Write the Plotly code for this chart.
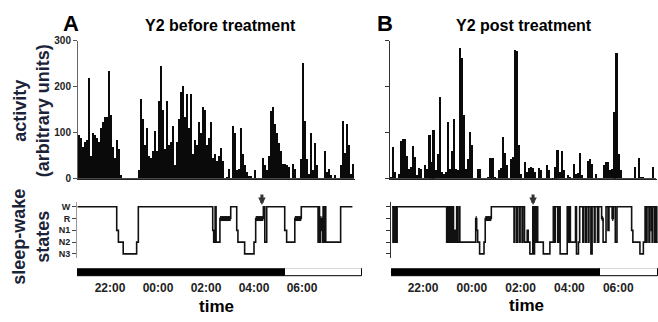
import plotly.graph_objects as go

# ---------------- data ----------------
# activity, 5-min epochs (arbitrary units)
actA_start = 20 + 40/60   # 20:40
actA = [95, 90, 70, 80, 85, 220, 50, 100, 95, 90, 80, 110, 125, 135, 135, 235, 140, 70, 45, 85, 65, 10,
        3, 3, 3, 3, 3, 3, 3, 3,
        20, 175, 130, 75, 110, 50, 45, 60, 105, 60, 170, 245, 150, 65, 170, 75, 80,
        115, 30, 80, 130, 190, 203, 135, 185, 110, 185, 55, 85, 75, 125, 100, 157, 150, 75, 90, 125, 45,
        55, 40, 50, 68, 40, 2, 5, 22, 3, 115, 100, 20, 22, 110, 55, 30, 15, 7, 7, 2, 20, 2, 1, 1, 45,
        30, 20, 50, 147, 157, 120, 100, 78, 60, 33, 33, 30, 27, 2, 33, 23, 1, 1, 43, 252, 126, 43, 12,
        100, 20, 78, 30, 1, 1, 1, 60, 16, 23, 9, 1, 9, 1, 1, 30, 126, 57, 120, 75, 12, 33]

actB_start = 20 + 39/60   # 20:39
actB = [5, 69, 16, 1, 12, 83, 88, 88, 50, 23, 26, 71, 47, 9, 24, 23, 1, 30, 23, 95, 38, 107, 19, 54, 178,
        16, 12, 16, 124, 23, 61, 130, 23, 19, 285, 264, 140, 23, 43, 102, 74, 1, 1, 23,
        23, 1, 1, 1, 5, 45, 45, 5, 1, 19, 25, 92, 57, 30, 2, 43, 47, 281, 278, 74, 12, 2, 38, 16, 24,
        26, 24, 16, 1, 24, 19, 1, 1, 30, 19, 1, 1, 26, 63, 16, 61, 19, 1,
        10, 5, 1, 33, 12, 14, 57, 10, 1, 1, 40, 43, 33, 1, 12, 1, 1, 1, 30, 38, 37, 19, 23, 146, 274,
        54, 19, 3, 3, 3, 1, 1, 1, 26, 1, 45, 5, 5, 1, 1, 1, 1, 26, 1]

stages = ["W", "R", "N1", "N2", "N3"]

# hypnogram A: change times (h after midnight of day 1) and stage entered
hypA_t = [20.65, 22.28, 22.35, 22.55, 23.11, 23.18, 26.28, 26.32, 26.38, 26.42, 26.58, 27.03,
          27.28, 27.33, 27.61, 28.00, 28.07, 28.39, 28.45, 28.53, 29.28, 29.36, 29.70, 29.97,
          30.67, 30.70, 30.73, 30.76, 30.80, 30.82, 30.85, 30.88, 30.92, 30.96, 30.99, 31.61]
hypA_s = ["W", "N1", "N2", "N3", "N2", "W", "N1", "N2", "W", "N2", "R", "W",
          "N1", "N2", "N3", "N2", "R", "W", "N2", "W", "N1", "N2", "R", "W",
          "N2", "W", "N2", "R", "N1", "R", "N2", "W", "N2", "W", "N2", "W"]
hypA_end = 32.1

hypB_t = [20.73, 20.77, 20.80, 20.83, 20.87, 20.90, 20.94,
          22.97, 23.01, 23.07, 23.10, 23.16, 23.19, 23.25, 23.29, 23.32, 23.38, 23.41, 23.48, 23.51,
          24.16, 24.20, 24.24, 24.32, 24.50, 24.55, 24.80,
          25.73, 25.76, 25.84, 25.87, 25.95, 25.98, 26.06, 26.09, 26.16, 26.27, 26.31, 26.38,
          26.50, 26.53, 26.57, 26.61, 26.66, 26.70, 26.93, 27.20,
          27.34, 27.38, 27.42, 27.52, 27.56, 27.62, 27.91, 27.95, 27.99, 28.04, 28.25, 28.29,
          28.37, 28.42, 28.55, 28.58, 28.66, 28.69, 28.77, 28.80, 28.88, 28.93, 29.02, 29.05,
          29.15, 29.20, 29.32, 29.38, 29.50, 29.58, 29.62, 29.75, 29.80, 29.88, 29.95,
          30.55, 30.60, 30.89, 31.03, 31.10, 31.15, 31.18, 31.26, 31.29, 31.36, 31.39, 31.42,
          31.50, 31.53, 31.58]
hypB_s = ["W", "N2", "W", "N2", "W", "N2", "W",
          "N2", "W", "N2", "W", "N2", "W", "N2", "N1", "N2", "W", "N2", "W", "N2",
          "R", "N1", "N2", "N3", "N2", "R", "W",
          "N2", "W", "N2", "W", "N2", "W", "N2", "W", "N2", "N1", "N2", "N3",
          "W", "N3", "W", "N2", "W", "N2", "N3", "N2",
          "W", "N2", "W", "N2", "W", "N3", "W", "N2", "W", "N2", "W", "N3",
          "N2", "W", "N2", "W", "N2", "W", "N2", "W", "N3", "W", "N2", "W",
          "N2", "W", "R", "N2", "W", "N1", "W", "R", "W", "N2", "W",
          "N1", "N2", "N3", "N2", "W", "N2", "W", "N2", "W", "N1", "N2", "W",
          "N2", "W", "N2"]
hypB_end = 31.62

# light/dark periods (h)
recA = [20.62, 32.5]
lightsOnA = 29.29
recB = [20.69, 31.63]
lightsOnB = 29.25

arrowA = 28.33
arrowB = 26.51

tick_vals = [22, 24, 26, 28, 30]
tick_text = ["22:00", "00:00", "02:00", "04:00", "06:00"]

# ---------------- figure ----------------
W, H = 658, 322
FONT = "Liberation Sans, Arial, sans-serif"


def fx(px):
    return px / W


def fy(py):
    return 1 - py / H


def step(ts, ss, end):
    x = list(ts) + [end]
    y = [stages.index(s) for s in ss]
    y = y + [y[-1]]
    return x, y


def rem(ts, ss, end):
    bounds = list(ts) + [end]
    x, y = [], []
    for i, s in enumerate(ss):
        if s == "R":
            x += [bounds[i], bounds[i + 1], None]
            y += [1, 1, None]
    return x, y


fig = go.Figure()

fig.add_trace(go.Bar(x=[actA_start + (i + 0.5) / 12 for i in range(len(actA))], y=actA,
                     width=1 / 12 * 0.8, marker=dict(color="#0a0a0a", line=dict(width=0)),
                     xaxis="x", yaxis="y", showlegend=False))
fig.add_trace(go.Bar(x=[actB_start + (i + 0.5) / 12 for i in range(len(actB))], y=actB,
                     width=1 / 12 * 0.8, marker=dict(color="#0a0a0a", line=dict(width=0)),
                     xaxis="x2", yaxis="y2", showlegend=False))

for ts, ss, end, xa, ya in [(hypA_t, hypA_s, hypA_end, "x3", "y3"), (hypB_t, hypB_s, hypB_end, "x4", "y4")]:
    x, y = step(ts, ss, end)
    fig.add_trace(go.Scatter(x=x, y=y, mode="lines", line=dict(color="#111", width=1.6, shape="hv"),
                             xaxis=xa, yaxis=ya, showlegend=False))
    rx, ry = rem(ts, ss, end)
    fig.add_trace(go.Scatter(x=rx, y=ry, mode="lines", line=dict(color="#111", width=5),
                             xaxis=xa, yaxis=ya, showlegend=False))

for rec, on, xa, ya in [(recA, lightsOnA, "x3", "y5"), (recB, lightsOnB, "x4", "y6")]:
    fig.add_trace(go.Bar(y=[0, 0], x=[on - rec[0], rec[1] - on], base=[rec[0], on], orientation="h",
                         width=1, marker=dict(color=["#000", "#fff"], line=dict(color="#000", width=1)),
                         xaxis=xa, yaxis=ya, showlegend=False))

act_dom = [fy(180), fy(37)]
hyp_dom = [fy(262), fy(204)]
bar_dom = [fy(281.5), fy(272.5)]

tickfont_small = dict(family=FONT, size=10, color="#222", weight="bold")
common_x = dict(showgrid=False, zeroline=False, ticks="", fixedrange=True)

fig.update_layout(
    width=W, height=H, margin=dict(l=0, r=0, t=0, b=0), autosize=False,
    paper_bgcolor="white", plot_bgcolor="white", bargap=0,
    font=dict(family=FONT),
    xaxis=dict(domain=[fx(78), fx(355)], range=[20.667, 32.208], anchor="y", showline=True,
               linecolor="#222", linewidth=1, showticklabels=False, **common_x),
    yaxis=dict(domain=act_dom, range=[0, 300], anchor="x", tickvals=[0, 100, 200, 300],
               ticks="outside", ticklen=4, tickcolor="#555", showline=True, linecolor="#666",
               linewidth=1, showgrid=False, zeroline=False, tickfont=tickfont_small),
    xaxis2=dict(domain=[fx(390), fx(657)], range=[20.648, 31.59], anchor="y2", showline=True,
                linecolor="#222", linewidth=1, showticklabels=False, **common_x),
    yaxis2=dict(domain=act_dom, range=[0, 300], anchor="x2", tickvals=[0, 100, 200, 300],
                ticks="outside", ticklen=4, tickcolor="#333", showline=True, linecolor="#333",
                linewidth=1, showgrid=False, zeroline=False, showticklabels=False),
    xaxis3=dict(domain=[fx(77), fx(362)], range=[20.625, 32.5], anchor="y5", showline=False,
                tickvals=tick_vals, ticktext=tick_text, ticklabelstandoff=2,
                tickfont=dict(family=FONT, size=12, color="#222", weight="bold"), **common_x),
    yaxis3=dict(domain=hyp_dom, range=[4.35, -0.4], anchor="x3", tickvals=[0, 1, 2, 3, 4],
                ticktext=stages, ticks="outside", ticklen=4, tickcolor="#444", showline=True,
                linecolor="#999", linewidth=1, showgrid=False, zeroline=False,
                tickfont=dict(family=FONT, size=9, color="#222", weight="bold")),
    yaxis5=dict(domain=bar_dom, range=[-0.55, 0.55], anchor="x3", visible=False),
    xaxis4=dict(domain=[fx(391), 1.0], range=[20.689, 31.63], anchor="y6", showline=False,
                tickvals=tick_vals, ticktext=tick_text, ticklabelstandoff=2,
                tickfont=dict(family=FONT, size=12, color="#222", weight="bold"), **common_x),
    yaxis4=dict(domain=hyp_dom, range=[4.35, -0.4], anchor="x4", tickvals=[0, 1, 2, 3, 4],
                ticks="outside", ticklen=4, tickcolor="#333", showline=True, linecolor="#333",
                linewidth=1, showgrid=False, zeroline=False, showticklabels=False),
    yaxis6=dict(domain=bar_dom, range=[-0.55, 0.55], anchor="x4", visible=False),
)

ann = []
def txt(text, px, py, size, color="#000", angle=0):
    ann.append(dict(text=text, x=fx(px), y=fy(py), xref="paper", yref="paper", showarrow=False,
                    xanchor="center", yanchor="middle", textangle=angle,
                    font=dict(family=FONT, size=size, color=color, weight="bold")))

txt("A", 71, 19, 22)
txt("Y2 before treatment", 221, 21, 16)
txt("B", 385, 19, 22)
txt("Y2 post treatment", 524, 21, 16)
txt("activity<br>(arbitrary units)", 31, 110, 18, "#1b2338", -90)
txt("sleep-wake<br>states", 31, 240, 18, "#1b2338", -90)
txt("time", 217, 312, 17)
txt("time", 526, 311, 17)

for xv, xa in [(arrowA, "x3"), (arrowB, "x4")]:
    ann.append(dict(text="", x=xv, y=fy(207), xref=xa, yref="paper", showarrow=True,
                    ax=0, ay=-12, arrowhead=2, arrowsize=0.5, arrowwidth=3, arrowcolor="#333"))

fig.update_layout(annotations=ann)
fig.write_html("out.html")
